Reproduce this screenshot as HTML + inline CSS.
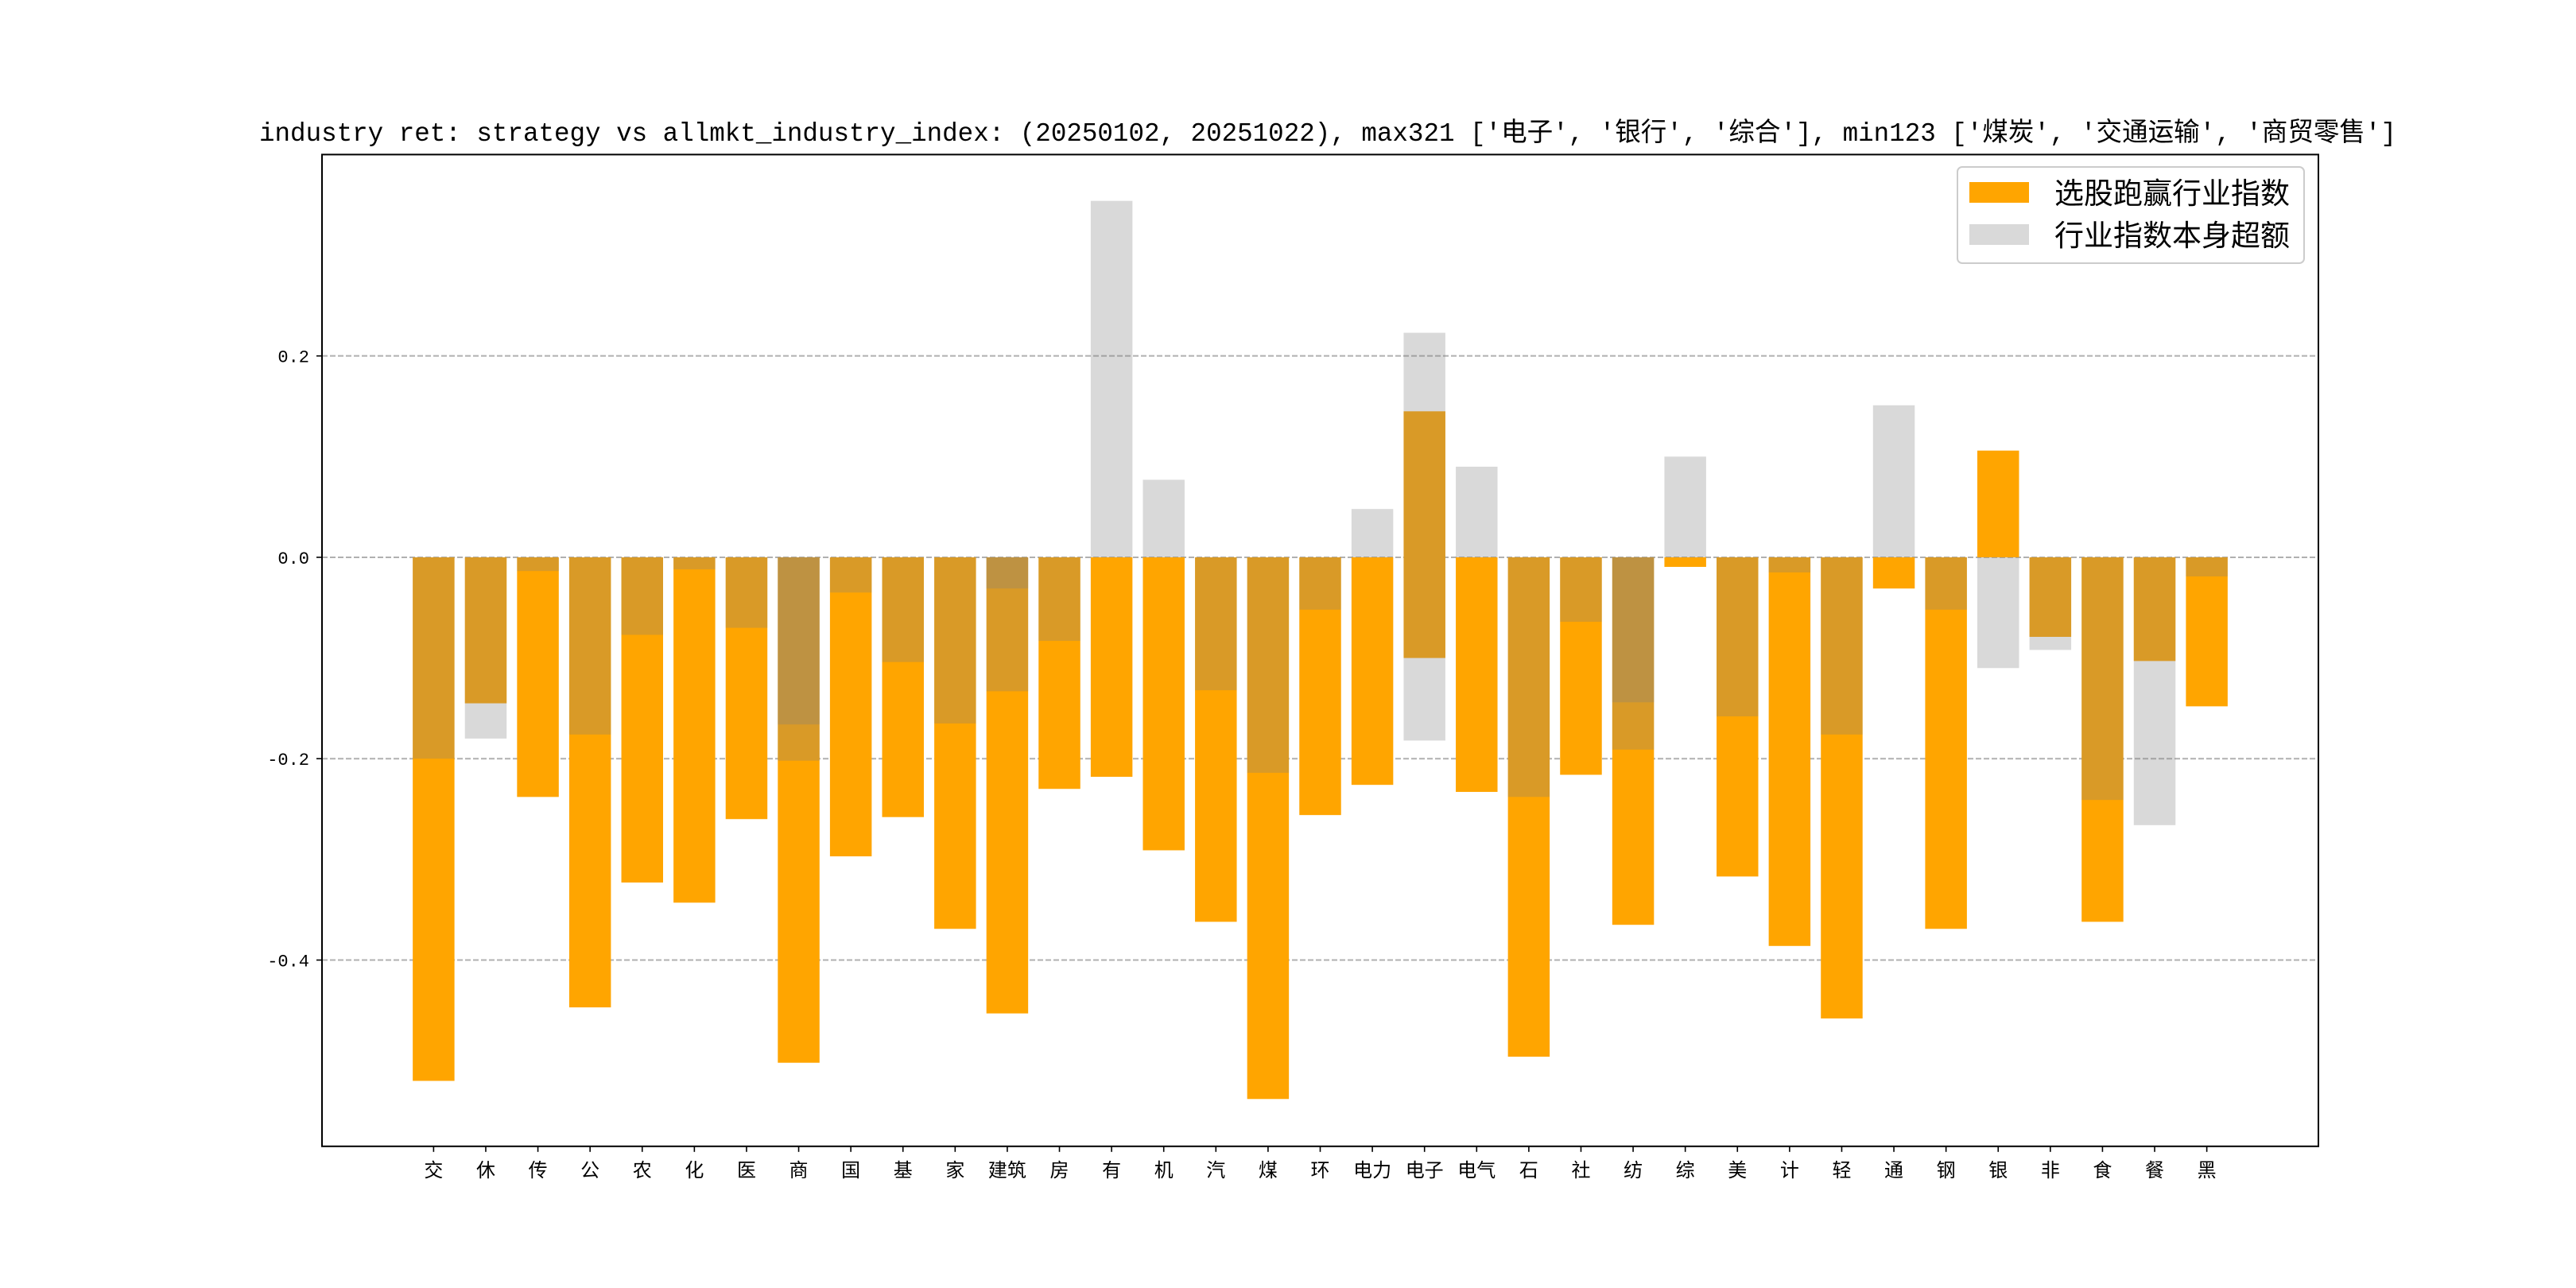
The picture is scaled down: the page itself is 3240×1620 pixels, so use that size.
<!DOCTYPE html>
<html><head><meta charset="utf-8"><style>
html,body{margin:0;padding:0;background:#fff;}
svg{display:block;}
</style></head><body>
<svg id="chart" width="3240" height="1620" viewBox="0 0 3240 1620" xmlns="http://www.w3.org/2000/svg">
<rect width="3240" height="1620" fill="#fff"/>
<text x="1670" y="177" text-anchor="middle" font-family="'Liberation Mono','Noto Sans CJK SC',monospace" font-size="33" textLength="2688" lengthAdjust="spacingAndGlyphs" fill="#000">industry ret: strategy vs allmkt_industry_index: (20250102, 20251022), max321 ['电子', '银行', '综合'], min123 ['煤炭', '交通运输', '商贸零售']</text>
<g id="grid"></g>
<g id="bars"></g>
<g id="axes"></g>
</svg>
<script>
const categories = ['交','休','传','公','农','化','医','商','国','基','家','建筑','房','有','机','汽','煤','环','电力','电子','电气','石','社','纺','综','美','计','轻','通','钢','银','非','食','餐','黑'];
// orange series: 选股跑赢行业指数 (low, high)
const orangeLo = [-0.520,-0.145,-0.238,-0.447,-0.323,-0.343,-0.260,-0.502,-0.297,-0.258,-0.369,-0.453,-0.230,-0.218,-0.291,-0.362,-0.538,-0.256,-0.226,-0.100,-0.233,-0.496,-0.216,-0.365,-0.0095,-0.317,-0.386,-0.458,-0.031,-0.369,0,-0.079,-0.362,-0.103,-0.148];
const orangeHi = [0,0,0,0,0,0,0,0,0,0,0,0,0,0,0,0,0,0,0,0.145,0,0,0,0,0,0,0,0,0,0,0.106,0,0,0,0];
// grey series: 行业指数本身超额 (low, high)
const greyLo = [-0.200,-0.180,-0.0136,-0.176,-0.077,-0.012,-0.070,-0.202,-0.035,-0.104,-0.165,-0.133,-0.083,0,0,-0.132,-0.214,-0.052,0,-0.182,0,-0.238,-0.064,-0.191,0,-0.158,-0.015,-0.176,0,-0.052,-0.110,-0.092,-0.241,-0.266,-0.019];
const greyHi = [0,0,0,0,0,0,0,0,0,0,0,0,0,0.354,0.077,0,0,0,0.048,0.223,0.090,0,0,0,0.100,0,0,0,0.151,0,0,0,0,0,0];
// second unlabelled grey overlay
const grey2Lo = [0,0,0,0,0,0,0,-0.166,0,0,0,-0.031,0,0,0,0,0,0,0,0,0,0,0,-0.144,0,0,0,0,0,0,0,0,0,0,0];
const yTicks = [0.2, 0.0, -0.2, -0.4];
const yTickLabels = ['0.2','0.0','-0.2','-0.4'];

const NS='http://www.w3.org/2000/svg';
const L=405,R=2916,T=194.4,B=1441.8;
const yMin=-0.585,yMax=0.40,xMin=-2.14,xMax=36.14;
const sx=v=>L+(v-xMin)/(xMax-xMin)*(R-L);
const sy=v=>B-(v-yMin)/(yMax-yMin)*(B-T);
function mk(tag,attrs,parent){const e=document.createElementNS(NS,tag);for(const k in attrs)e.setAttribute(k,attrs[k]);parent.appendChild(e);return e;}
const grid=document.getElementById('grid'),bars=document.getElementById('bars'),axes=document.getElementById('axes');
const bw=sx(0.8)-sx(0);

yTicks.forEach((t,i)=>{
  const g=mk('line',{x1:L,x2:R,y1:sy(t),y2:sy(t),stroke:'#b0b0b0','stroke-width':2,'stroke-dasharray':'7,3'},grid);
  
  
});

categories.forEach((c,i)=>{
  const x=sx(i)-bw/2;
  const o=mk('rect',{x:x,width:bw,y:sy(orangeHi[i]),height:Math.max(0,sy(orangeLo[i])-sy(orangeHi[i])),fill:'#ffa500'},bars);
  
  
  const g=mk('rect',{x:x,width:bw,y:sy(greyHi[i]),height:Math.max(0,sy(greyLo[i])-sy(greyHi[i])),fill:'#808080','fill-opacity':0.3},bars);
  
  
  if(grey2Lo[i]<0){
    const g2=mk('rect',{x:x,width:bw,y:sy(0),height:sy(grey2Lo[i])-sy(0),fill:'#808080','fill-opacity':0.3},bars);
    
    
  }
  const tk=mk('line',{x1:sx(i),x2:sx(i),y1:B,y2:B+7,stroke:'#000','stroke-width':1.6},axes);
  
  
  const tl=mk('text',{x:sx(i),y:B+38,'text-anchor':'middle','font-size':24,'font-family':"'Liberation Sans','Noto Sans CJK SC',sans-serif",fill:'#000'},axes);
  tl.textContent=c;
  
  
});

yTicks.forEach((t,i)=>{
  const tk=mk('line',{x1:L-7,x2:L,y1:sy(t),y2:sy(t),stroke:'#000','stroke-width':1.6},axes);
  
  
  const tl=mk('text',{x:L-16,y:sy(t)+8,'text-anchor':'end','font-size':22,'font-family':"'Liberation Mono',monospace",fill:'#000'},axes);
  tl.textContent=yTickLabels[i];
  
  
});

const frame=mk('rect',{x:L,y:T,width:R-L,height:B-T,fill:'none',stroke:'#000','stroke-width':2},axes);



const leg=mk('g',{},axes);


mk('rect',{x:2462,y:210,width:436,height:121,rx:6,fill:'#fff','fill-opacity':0.8,stroke:'#ccc','stroke-width':2},leg);
const p1=mk('rect',{x:2477,y:229,width:75,height:26,fill:'#ffa500'},leg);


const t1=mk('text',{x:2584,y:256,'font-size':37,'font-family':"'Liberation Sans','Noto Sans CJK SC',sans-serif",fill:'#000'},leg);
t1.textContent='选股跑赢行业指数';


const p2=mk('rect',{x:2477,y:282,width:75,height:26,fill:'#808080','fill-opacity':0.3},leg);


const t2=mk('text',{x:2584,y:309,'font-size':37,'font-family':"'Liberation Sans','Noto Sans CJK SC',sans-serif",fill:'#000'},leg);
t2.textContent='行业指数本身超额';


</script>
</body></html>
